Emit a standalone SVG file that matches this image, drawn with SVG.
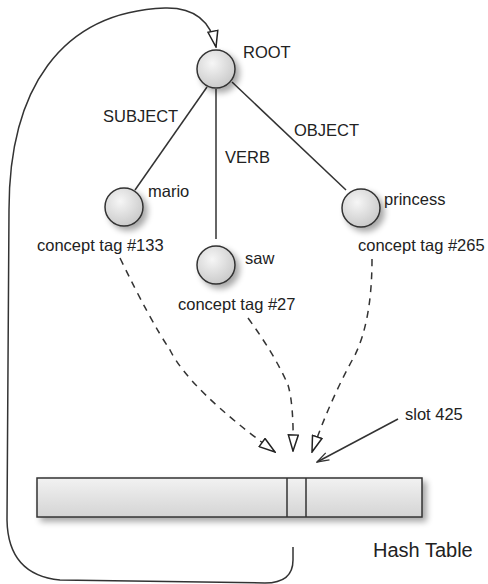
<svg xmlns="http://www.w3.org/2000/svg" width="488" height="584" viewBox="0 0 488 584">
<style>
text{font-family:"Liberation Sans",Arial,sans-serif;font-size:16.5px;fill:#222}
.node{fill:url(#cg);stroke:#333;stroke-width:1.5}
.edge{fill:none;stroke:#333;stroke-width:1.5}
.dash{fill:none;stroke:#333;stroke-width:1.5;stroke-dasharray:7,6}
</style>
<defs>
<radialGradient id="cg" cx="0.4" cy="0.35" r="0.7">
<stop offset="0" stop-color="#f6f6f6"/>
<stop offset="1" stop-color="#c8c8c8"/>
</radialGradient>
<linearGradient id="rg" x1="0" y1="0" x2="0" y2="1">
<stop offset="0" stop-color="#f2f2f2"/>
<stop offset="1" stop-color="#d4d4d4"/>
</linearGradient>
<filter id="sh" x="-30%" y="-30%" width="170%" height="170%">
<feGaussianBlur in="SourceAlpha" stdDeviation="3"/>
<feOffset dx="4" dy="4"/>
<feComponentTransfer><feFuncA type="linear" slope="0.35"/></feComponentTransfer>
<feMerge><feMergeNode/><feMergeNode in="SourceGraphic"/></feMerge>
</filter>
<marker id="tri" viewBox="0 0 18 12" refX="17" refY="6" markerWidth="18" markerHeight="12" markerUnits="userSpaceOnUse" orient="auto">
<path d="M1,1 L17,6 L1,11 Z" fill="#fff" stroke="#222" stroke-width="1.5"/>
</marker>
<marker id="open" viewBox="0 0 14 10" refX="13" refY="5" markerWidth="14" markerHeight="10" markerUnits="userSpaceOnUse" orient="auto">
<path d="M1,1 L13,5 L1,9" fill="none" stroke="#333" stroke-width="1.3"/>
</marker>
</defs>
<g id="connectors">
<path class="edge" d="M293,547 L293,560 Q293,583 265,583 L60,580 Q8,575 7,520 L9,210 C9,90 60,12 165,8 Q208,7 216,47" marker-end="url(#tri)"/>
<line class="edge" x1="207" y1="87" x2="135" y2="190"/>
<line class="edge" x1="216" y1="89" x2="216" y2="239"/>
<line class="edge" x1="232" y1="82" x2="346" y2="190"/>
<path class="dash" d="M120,258 Q150,320 170,350 Q190,390 275,452" marker-end="url(#tri)"/>
<path class="dash" d="M248,318 Q275,355 288,385 Q294,405 293,451" marker-end="url(#tri)"/>
<path class="dash" d="M372,259 Q372,320 355,355 Q330,400 312,452" marker-end="url(#tri)"/>
<line class="edge" x1="398" y1="419" x2="317" y2="462" marker-end="url(#open)"/>
</g>
<g id="hash-table">
<g filter="url(#sh)">
<rect x="37" y="478" width="385" height="39" fill="url(#rg)" stroke="#333" stroke-width="1.5"/>
</g>
<line class="edge" x1="287" y1="478" x2="287" y2="517"/>
<line class="edge" x1="306" y1="478" x2="306" y2="517"/>
<text x="373" y="557" style="font-size:20px">Hash Table</text>
</g>
<g id="root"><circle class="node" cx="216" cy="69" r="19" filter="url(#sh)"/><text x="243" y="58">ROOT</text></g>
<g id="mario"><circle class="node" cx="124" cy="207" r="19" filter="url(#sh)"/><text x="148" y="197">mario</text><text x="37" y="251">concept tag #133</text></g>
<g id="saw"><circle class="node" cx="216" cy="265" r="19" filter="url(#sh)"/><text x="245" y="264">saw</text><text x="178" y="310">concept tag #27</text></g>
<g id="princess"><circle class="node" cx="361" cy="208" r="19" filter="url(#sh)"/><text x="384" y="205">princess</text><text x="358" y="251">concept tag #265</text></g>
<g id="labels">
<text x="103" y="122">SUBJECT</text>
<text x="225" y="163">VERB</text>
<text x="294" y="136">OBJECT</text>
<text x="405" y="420">slot 425</text>
</g>
</svg>
